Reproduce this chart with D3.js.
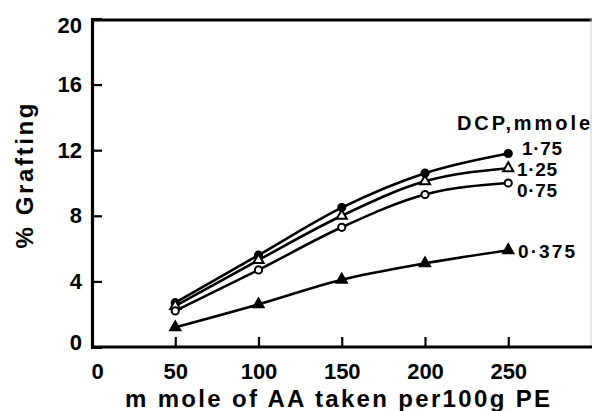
<!DOCTYPE html>
<html><head><meta charset="utf-8">
<script src="https://cdn.jsdelivr.net/npm/d3@7/dist/d3.min.js"></script>
<style>
body{margin:0;background:#fff;}
svg{display:block;}
text{font-family:"Liberation Sans",Arial,sans-serif;fill:#000;}
</style></head>
<body>
<svg id="c" width="592" height="411"></svg>
<script>
const xValues = [50, 100, 150, 200, 250];
const series175 = [2.7, 5.6, 8.5, 10.6, 11.8];
const series125 = [2.5, 5.3, 8.0, 10.1, 10.9];
const series075 = [2.2, 4.7, 7.3, 9.3, 10.0];
const series0375 = [1.2, 2.6, 4.1, 5.1, 5.9];
const seriesLabels = ["1·75", "1·25", "0·75", "0·375"];
const markerTypes = ["filledCircle", "openTriangle", "openCircle", "filledTriangle"];
const xTicks = [0, 50, 100, 150, 200, 250];
const yTicks = [0, 4, 8, 12, 16, 20];
const legendTitle = "DCP,mmole";
const xTitle = "m mole of AA taken per100g PE";
const yTitle = "% Grafting";

const svg = d3.select("#c");
const x = d3.scaleLinear().domain([0, 300]).range([92, 591.5]);
const y = d3.scaleLinear().domain([0, 20]).range([347, 19]);

// frame
svg.append("line").attr("x1", x(0)).attr("x2", 592).attr("y1", y(20)+1).attr("y2", y(20)+1)
  .attr("stroke", "#000").attr("stroke-width", 3.2);
svg.append("line").attr("x1", 591).attr("x2", 591).attr("y1", y(20)).attr("y2", y(0))
  .attr("stroke", "#ccc").attr("stroke-width", 1);

// axes
const xAxis = svg.append("g").attr("transform", `translate(0,${y(0)})`)
  .call(d3.axisBottom(x).tickValues(xTicks).tickSize(-10).tickPadding(12).tickFormat(d3.format("d")));
const yAxis = svg.append("g").attr("transform", `translate(${x(0)},0)`)
  .call(d3.axisLeft(y).tickValues(yTicks).tickSize(-10).tickPadding(10).tickFormat(d3.format("d")));
[xAxis, yAxis].forEach(g => {
  g.select(".domain").attr("stroke", "#000").attr("stroke-width", 3.2);
  g.selectAll(".tick line").attr("stroke", "#000").attr("stroke-width", 2.2);
  g.selectAll(".tick text").attr("font-size", 22).attr("font-weight", "bold")
    .attr("font-family", '"Liberation Sans",Arial,sans-serif');
});
xAxis.select(".domain").attr("d", `M${x(0)},0H592`);
xAxis.selectAll(".tick").filter(d => d === 0).select("line").remove();
xAxis.selectAll(".tick").filter(d => d === 0).select("text").attr("dx", 5);
yAxis.selectAll(".tick").filter(d => d === 0 || d === 20).select("line").remove();
yAxis.selectAll(".tick").filter(d => d === 0).select("text").attr("dy", "0.1em");
yAxis.selectAll(".tick").filter(d => d === 20).select("text").attr("dy", "0.62em");
xAxis.selectAll(".tick text").attr("dy", "0.9em");

// titles
svg.append("text").attr("x", 125).attr("y", 407).attr("font-size", 24).attr("font-weight", "bold")
  .attr("textLength", 425).attr("lengthAdjust", "spacing").text(xTitle);
svg.append("text").attr("transform", "translate(33,176) rotate(-90)").attr("text-anchor", "middle")
  .attr("font-size", 24).attr("font-weight", "bold").attr("textLength", 145).attr("lengthAdjust", "spacing").text(yTitle);

// series
const allSeries = [series175, series125, series075, series0375];
const line = d3.line().x((d, i) => x(xValues[i])).y(d => y(d)).curve(d3.curveMonotoneX);
allSeries.forEach((s, k) => {
  svg.append("path").attr("d", line(s)).attr("fill", "none").attr("stroke", "#000").attr("stroke-width", 2.6);
});
const tri = d3.symbol().type(d3.symbolTriangle).size(45);
allSeries.forEach((s, k) => {
  const t = markerTypes[k];
  s.forEach((v, i) => {
    const cx = x(xValues[i]), cy = y(v);
    if (t === "filledCircle" || t === "openCircle") {
      svg.append("circle").attr("cx", cx).attr("cy", cy).attr("r", 3.6)
        .attr("fill", t === "filledCircle" ? "#000" : "#fff").attr("stroke", "#000").attr("stroke-width", 2);
    } else {
      svg.append("path").attr("d", tri()).attr("transform", `translate(${cx},${cy})`)
        .attr("fill", t === "filledTriangle" ? "#000" : "#fff").attr("stroke", "#000").attr("stroke-width", 2);
    }
  });
});

// labels
svg.append("text").attr("x", 457).attr("y", 130).attr("font-size", 20).attr("font-weight", "bold")
  .attr("textLength", 133).attr("lengthAdjust", "spacing").text(legendTitle);
const labelX = [522, 517, 517, 518];
const labelDy = [-5, 1, 7, 1];
allSeries.forEach((s, k) => {
  svg.append("text").attr("x", labelX[k]).attr("y", y(s[s.length-1]) + labelDy[k]).attr("dy", "0.36em")
    .attr("font-size", 19).attr("font-weight", "bold").attr("textLength", k === 3 ? 57 : 40).attr("lengthAdjust", "spacing")
    .text(seriesLabels[k]);
});
</script>
</body></html>
